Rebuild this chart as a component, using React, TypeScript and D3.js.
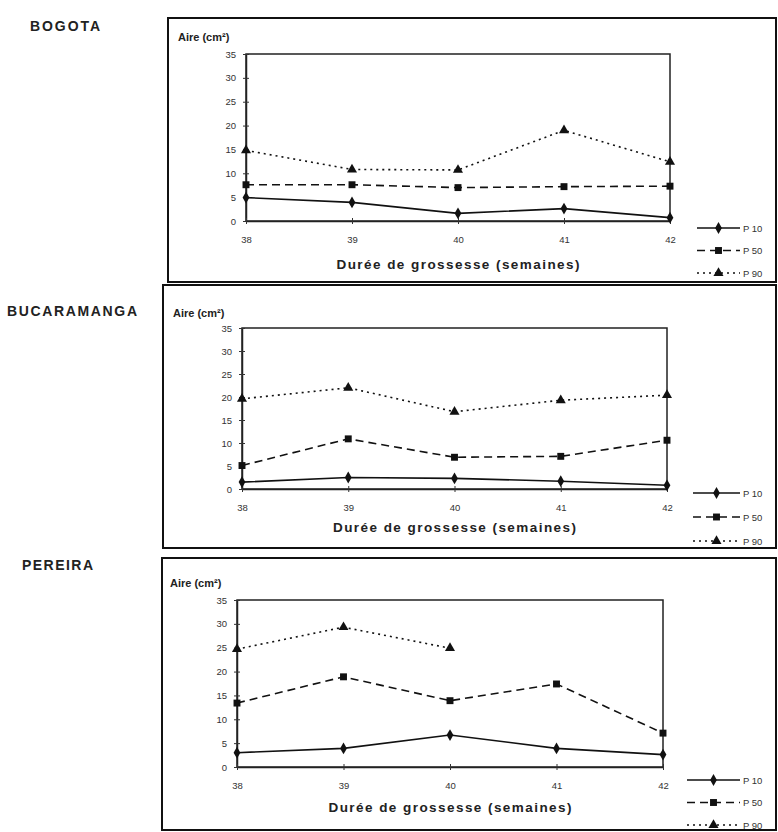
import { useEffect, useRef } from "react";
import * as d3 from "d3";

// weeks of pregnancy on the x axis
const weeks = [38, 39, 40, 41, 42];
const yTicks = [0, 5, 10, 15, 20, 25, 30, 35];
const seriesNames = ["P 10", "P 50", "P 90"];

// values (cm²)
const bogotaP10 = [4.9, 3.9, 1.6, 2.6, 0.7];
const bogotaP50 = [7.6, 7.6, 7.0, 7.2, 7.3];
const bogotaP90 = [14.8, 10.8, 10.7, 19.0, 12.4];

const bucaramangaP10 = [1.5, 2.5, 2.3, 1.7, 0.8];
const bucaramangaP50 = [5.1, 10.9, 6.9, 7.1, 10.6];
const bucaramangaP90 = [19.6, 22.0, 16.8, 19.3, 20.4];

const pereiraP10 = [3.0, 3.9, 6.7, 3.9, 2.6];
const pereiraP50 = [13.4, 18.9, 13.9, 17.4, 7.1];
const pereiraP90 = [24.7, 29.3, 24.9, null, null];

const cityNames = ["BOGOTA", "BUCARAMANGA", "PEREIRA"];
const citySeries = [
  [bogotaP10, bogotaP50, bogotaP90],
  [bucaramangaP10, bucaramangaP50, bucaramangaP90],
  [pereiraP10, pereiraP50, pereiraP90],
];

// layout of the three scanned panels
const layouts = [
  { title: [30, 31], titleLen: 70, box: [168, 18, 608, 264], plot: [246, 670, 54, 221], aire: [178, 41], axisTitle: 269, legend: [697, 228, 22.5] },
  { title: [7, 316], titleLen: 130, box: [163, 285, 613, 263], plot: [242, 667, 328, 489], aire: [173, 317], axisTitle: 532, legend: [693, 493, 24] },
  { title: [22, 570], titleLen: 71, box: [162, 558, 614, 272], plot: [237, 663, 600, 767], aire: [170, 587], axisTitle: 812, legend: [687, 780, 22.5] },
];

const font = "'Liberation Sans', Arial, sans-serif";
const dashes = [null, "8,5", "2,4"];
const symbols = [d3.symbolDiamond, d3.symbolSquare, d3.symbolTriangle];
const symbolSizes = [40, 48, 44];

export default function App() {
  const ref = useRef<SVGSVGElement>(null);

  useEffect(() => {
    const svg = d3.select(ref.current);
    svg.selectAll("*").remove();

    svg.append("rect").attr("width", 778).attr("height", 832).attr("fill", "#fff");

    layouts.forEach((lay, i) => {
      const g = svg.append("g");
      const [bx, by, bw, bh] = lay.box;
      const [x0, x1, yTop, yBot] = lay.plot;

      // city title
      g.append("text")
        .attr("x", lay.title[0])
        .attr("y", lay.title[1])
        .attr("font-family", font)
        .attr("font-weight", "bold")
        .attr("font-size", 14)
        .attr("textLength", lay.titleLen)
        .attr("fill", "#222")
        .text(cityNames[i]);

      // panel frame
      g.append("rect")
        .attr("x", bx)
        .attr("y", by)
        .attr("width", bw)
        .attr("height", bh)
        .attr("fill", "none")
        .attr("stroke", "#111")
        .attr("stroke-width", 2);

      const x = d3.scalePoint<number>().domain(weeks).range([x0, x1]);
      const y = d3.scaleLinear().domain([0, 35]).range([yBot, yTop]);

      // plot frame
      g.append("rect")
        .attr("x", x0)
        .attr("y", yTop)
        .attr("width", x1 - x0)
        .attr("height", yBot - yTop)
        .attr("fill", "none")
        .attr("stroke", "#222")
        .attr("stroke-width", 1.5);

      // y axis
      const yAxis = g.append("g")
        .attr("transform", `translate(${x0},0)`)
        .call(d3.axisLeft(y).tickValues(yTicks).tickSizeInner(3).tickSizeOuter(0).tickPadding(7));
      yAxis.select(".domain").attr("stroke", "#222").attr("stroke-width", 1.5);
      yAxis.selectAll(".tick line").attr("x2", 3).attr("x1", -3).attr("stroke", "#333");
      yAxis.selectAll("text").attr("font-family", font).attr("font-size", 9.5).attr("fill", "#333");

      // x axis
      const xAxis = g.append("g")
        .attr("transform", `translate(0,${yBot})`)
        .call(d3.axisBottom(x).tickSizeInner(3).tickSizeOuter(0).tickPadding(12));
      xAxis.select(".domain").attr("stroke", "#222").attr("stroke-width", 1.5);
      xAxis.selectAll(".tick line").attr("y1", -3).attr("y2", 3).attr("stroke", "#333");
      xAxis.selectAll("text").attr("font-family", font).attr("font-size", 9.5).attr("fill", "#333");

      // "Aire (cm²)"
      g.append("text")
        .attr("x", lay.aire[0])
        .attr("y", lay.aire[1])
        .attr("font-family", font)
        .attr("font-weight", "bold")
        .attr("font-size", 11)
        .attr("fill", "#222")
        .text("Aire (cm²)");

      // x axis title
      g.append("text")
        .attr("x", (x0 + x1) / 2)
        .attr("y", lay.axisTitle)
        .attr("text-anchor", "middle")
        .attr("font-family", font)
        .attr("font-weight", "bold")
        .attr("font-size", 13.5)
        .attr("textLength", 243)
        .attr("fill", "#222")
        .text("Durée de grossesse (semaines)");

      // series
      citySeries[i].forEach((vals, s) => {
        const pts = weeks.map((w, k) => ({ w, v: vals[k] }));
        const line = d3.line<{ w: number; v: number | null }>()
          .defined((d) => d.v != null)
          .x((d) => x(d.w)!)
          .y((d) => y(d.v as number));
        g.append("path")
          .datum(pts)
          .attr("d", line)
          .attr("fill", "none")
          .attr("stroke", "#111")
          .attr("stroke-width", 1.6)
          .attr("stroke-dasharray", dashes[s]);
        g.selectAll(null)
          .data(pts.filter((d) => d.v != null))
          .enter()
          .append("path")
          .attr("d", d3.symbol().type(symbols[s]).size(symbolSizes[s]))
          .attr("transform", (d) => `translate(${x(d.w)},${y(d.v as number)})`)
          .attr("fill", "#111");
      });

      // legend
      const [lx, ly, lstep] = lay.legend;
      seriesNames.forEach((name, s) => {
        const yy = ly + s * lstep;
        g.append("line")
          .attr("x1", lx)
          .attr("x2", 740)
          .attr("y1", yy)
          .attr("y2", yy)
          .attr("stroke", "#111")
          .attr("stroke-width", 1.6)
          .attr("stroke-dasharray", dashes[s]);
        g.append("path")
          .attr("d", d3.symbol().type(symbols[s]).size(symbolSizes[s]))
          .attr("transform", `translate(${(lx + 740) / 2},${yy})`)
          .attr("fill", "#111");
        g.append("text")
          .attr("x", 743)
          .attr("y", yy + 3.5)
          .attr("font-family", font)
          .attr("font-size", 9.5)
          .attr("fill", "#333")
          .text(name);
      });
    });
  }, []);

  return (
    <svg
      ref={ref}
      width={778}
      height={832}
      style={{ position: "absolute", left: 0, top: 0 }}
    />
  );
}
